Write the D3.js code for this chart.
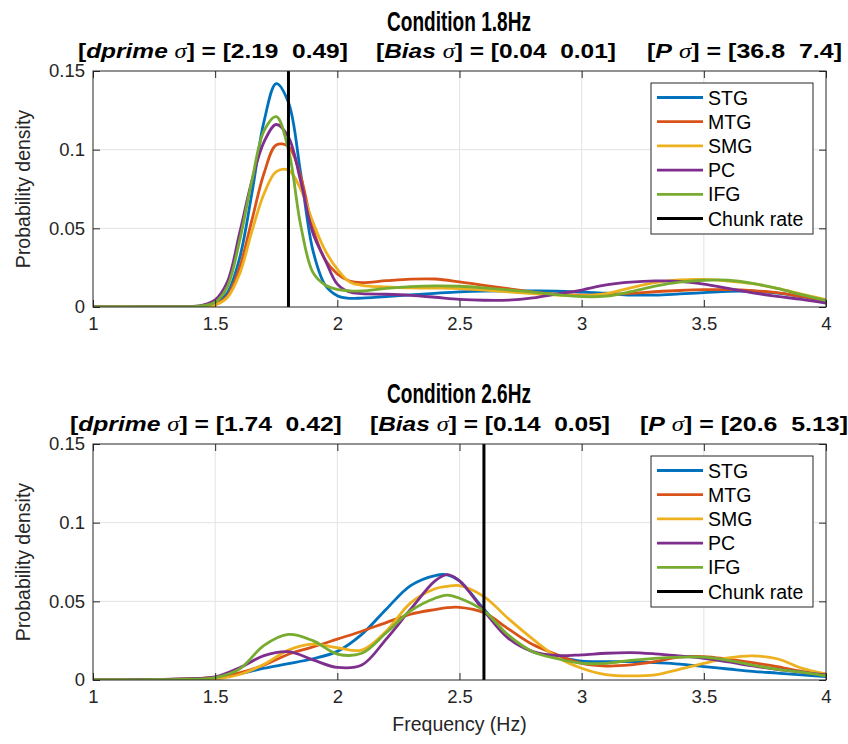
<!DOCTYPE html>
<html><head><meta charset="utf-8">
<script src="https://cdn.jsdelivr.net/npm/d3@7"></script>
<style>
html,body{margin:0;padding:0;background:#fff;}
svg{display:block;font-family:"Liberation Sans",Arial,sans-serif;}
</style></head>
<body><svg id="chart" width="848" height="744"></svg>
<script>
// ---------- data ----------
const regions = ["STG", "MTG", "SMG", "PC", "IFG"];
const colors = ["#0072BD", "#D95319", "#EDB120", "#7E2F8E", "#77AC30"];
const xTicks = [1, 1.5, 2, 2.5, 3, 3.5, 4];
const yTicks = [0, 0.05, 0.1, 0.15];
const yTickLabels = ["0", "0.05", "0.1", "0.15"];

const titles = ["Condition 1.8Hz", "Condition 2.6Hz"];
const chunkRates = [1.8, 2.6];
const dprimeStats = [["2.19", "0.49"], ["1.74", "0.42"]];
const biasStats = [["0.04", "0.01"], ["0.14", "0.05"]];
const pStats = [["36.8", "7.4"], ["20.6", "5.13"]];

// top panel (1.8 Hz)
const freqTop = [1.0, 1.2, 1.4, 1.45, 1.5, 1.55, 1.6, 1.65, 1.7, 1.75, 1.8, 1.85, 1.9, 1.95, 2.0, 2.05, 2.1,
  2.2, 2.3, 2.4, 2.5, 2.6, 2.7, 2.8, 2.9, 3.0, 3.1, 3.2, 3.3, 3.4, 3.5, 3.6, 3.7, 3.8, 3.9, 4.0];
const topSTG = [0, 0, 0.0001, 0.0004, 0.002, 0.009, 0.031, 0.072, 0.118, 0.142, 0.130, 0.085, 0.036, 0.014, 0.0072, 0.0055, 0.0057,
  0.0066, 0.0077, 0.0087, 0.0096, 0.0101, 0.0102, 0.0102, 0.0101, 0.0095, 0.0088, 0.0076, 0.0076, 0.0083, 0.0091, 0.0100, 0.0100, 0.0088, 0.0066, 0.0038];
const topMTG = [0, 0, 0.0001, 0.0003, 0.0015, 0.007, 0.025, 0.055, 0.085, 0.103, 0.102, 0.083, 0.050, 0.030, 0.021, 0.0165, 0.0155,
  0.0167, 0.0177, 0.0178, 0.016, 0.0138, 0.0116, 0.0095, 0.0081, 0.0075, 0.0079, 0.0087, 0.0097, 0.0105, 0.011, 0.011, 0.0104, 0.0091, 0.0067, 0.0042];
const topSMG = [0, 0, 0.0001, 0.0003, 0.0013, 0.006, 0.021, 0.048, 0.072, 0.086, 0.087, 0.075, 0.054, 0.036, 0.024, 0.016, 0.0138,
  0.0127, 0.0122, 0.012, 0.0117, 0.0107, 0.0096, 0.0085, 0.0076, 0.0072, 0.0085, 0.0122, 0.0155, 0.0172, 0.0175, 0.0165, 0.0148, 0.0118, 0.0082, 0.0047];
const topPC = [0, 0, 0.0003, 0.0012, 0.0045, 0.016, 0.047, 0.080, 0.105, 0.116, 0.108, 0.080, 0.047, 0.030, 0.0145, 0.0095, 0.0085,
  0.0081, 0.0074, 0.0062, 0.0049, 0.0043, 0.0044, 0.0058, 0.0083, 0.0108, 0.014, 0.0158, 0.0166, 0.0163, 0.0145, 0.0118, 0.009, 0.0068, 0.0048, 0.0025];
const topIFG = [0, 0, 0.0002, 0.0008, 0.003, 0.013, 0.042, 0.080, 0.112, 0.121, 0.100, 0.052, 0.022, 0.014, 0.0112, 0.0103, 0.0102,
  0.0118, 0.0129, 0.0134, 0.0132, 0.0122, 0.0108, 0.0095, 0.0078, 0.0066, 0.0069, 0.0097, 0.0132, 0.0158, 0.017, 0.017, 0.015, 0.0118, 0.0078, 0.0042];

// bottom panel (2.6 Hz)
const freqBottom = [1.0, 1.2, 1.4, 1.5, 1.6, 1.7, 1.8, 1.9, 2.0, 2.1, 2.2, 2.3, 2.4, 2.45, 2.5, 2.6, 2.7, 2.8, 2.9, 3.0,
  3.1, 3.2, 3.3, 3.4, 3.5, 3.6, 3.7, 3.8, 3.9, 4.0];
const botSTG = [0, 0.0001, 0.0007, 0.0013, 0.004, 0.0075, 0.0104, 0.0135, 0.0182, 0.029, 0.045, 0.060, 0.0664, 0.0668, 0.063, 0.045, 0.028, 0.018, 0.0145, 0.012,
  0.0117, 0.0117, 0.011, 0.0101, 0.0085, 0.007, 0.0055, 0.0044, 0.0033, 0.0021];
const botMTG = [0, 0.0002, 0.0008, 0.0018, 0.0045, 0.0095, 0.0164, 0.021, 0.026, 0.031, 0.0365, 0.0418, 0.0448, 0.046, 0.0462, 0.0428, 0.0325, 0.0225, 0.016, 0.0106,
  0.0089, 0.0096, 0.0117, 0.0145, 0.0149, 0.0132, 0.011, 0.0085, 0.0055, 0.0038];
const botSMG = [0, 0, 0.0002, 0.0006, 0.0035, 0.010, 0.019, 0.0228, 0.0205, 0.019, 0.031, 0.049, 0.058, 0.0595, 0.060, 0.053, 0.039, 0.026, 0.0145, 0.0075,
  0.0034, 0.0026, 0.0033, 0.0068, 0.0106, 0.014, 0.0153, 0.0135, 0.0075, 0.0038];
const botPC = [0, 0.0002, 0.0008, 0.002, 0.0078, 0.0155, 0.018, 0.0128, 0.008, 0.0095, 0.026, 0.045, 0.063, 0.067, 0.063, 0.044, 0.0265, 0.018, 0.0155, 0.016,
  0.017, 0.0174, 0.0166, 0.0153, 0.0138, 0.0115, 0.009, 0.0068, 0.005, 0.0032];
const botIFG = [0, 0.0001, 0.0005, 0.0015, 0.007, 0.022, 0.029, 0.025, 0.0165, 0.017, 0.030, 0.044, 0.052, 0.054, 0.052, 0.044, 0.0285, 0.018, 0.0135, 0.0106,
  0.0106, 0.0125, 0.0138, 0.0145, 0.0145, 0.0125, 0.0095, 0.0068, 0.005, 0.0026];

// ---------- drawing ----------
const svg = d3.select("#chart");
const textColor = "#262626";
const L = 93, R = 826;
const panels = [
  { freq: freqTop, series: [topSTG, topMTG, topSMG, topPC, topIFG], top: 71, bottom: 307, titleY: 31, subY: 58 },
  { freq: freqBottom, series: [botSTG, botMTG, botSMG, botPC, botIFG], top: 444, bottom: 680, titleY: 403, subY: 431 }
];

function fitText(sel, x0, w) {
  const bb = sel.node().getBBox();
  const s = w / bb.width;
  sel.attr("transform", `translate(${x0 - bb.x * s},0) scale(${s},1)`);
}

function statText(g, x0, w, yb, name, vals) {
  const t = g.append("text").attr("y", yb).attr("x", 0)
    .attr("font-size", 21).attr("font-weight", "bold").attr("fill", "#000")
    .style("white-space", "pre");
  t.append("tspan").text("[");
  t.append("tspan").attr("font-style", "italic").text(name);
  t.append("tspan").text(" ");
  t.append("tspan").attr("font-family", "'Liberation Serif','DejaVu Serif',serif").attr("font-style", "italic")
    .attr("font-weight", "normal").text("σ");
  t.append("tspan").text(`] = [${vals[0]}  ${vals[1]}]`);
  fitText(t, x0, w);
}

const subPos = [
  [[78, 270], [376, 240], [647, 195]],
  [[70, 272], [370, 240], [640, 208]]
];

panels.forEach((p, i) => {
  const x = d3.scaleLinear().domain([1, 4]).range([L, R]);
  const y = d3.scaleLinear().domain([0, 0.15]).range([p.bottom, p.top]);
  const g = svg.append("g");

  // grid
  g.append("g").selectAll("line").data(xTicks.slice(1, -1)).join("line")
    .attr("x1", d => x(d)).attr("x2", d => x(d)).attr("y1", p.top).attr("y2", p.bottom)
    .attr("stroke", "#e3e3e3").attr("stroke-width", 1);
  g.append("g").selectAll("line").data(yTicks.slice(1, -1)).join("line")
    .attr("y1", d => y(d)).attr("y2", d => y(d)).attr("x1", L).attr("x2", R)
    .attr("stroke", "#e3e3e3").attr("stroke-width", 1);

  // curves
  const clipId = "clip" + i;
  svg.append("clipPath").attr("id", clipId).append("rect")
    .attr("x", L).attr("y", p.top).attr("width", R - L).attr("height", p.bottom - p.top);
  const line = d3.line().x(d => x(d[0])).y(d => y(d[1])).curve(d3.curveCatmullRom.alpha(0.5));
  const cg = g.append("g").attr("clip-path", `url(#${clipId})`);
  p.series.forEach((vals, k) => {
    cg.append("path").datum(p.freq.map((f, j) => [f, vals[j]]))
      .attr("d", line).attr("fill", "none").attr("stroke", colors[k])
      .attr("stroke-width", 2.8).attr("stroke-linejoin", "round").attr("stroke-linecap", "round");
  });
  // chunk rate
  cg.append("line").attr("x1", x(chunkRates[i])).attr("x2", x(chunkRates[i]))
    .attr("y1", p.top).attr("y2", p.bottom).attr("stroke", "#000").attr("stroke-width", 3);

  // axes
  const ax = g.append("g").attr("transform", `translate(0,${p.bottom})`)
    .call(d3.axisBottom(x).tickValues(xTicks).tickSizeInner(-7).tickSizeOuter(0).tickPadding(10).tickFormat(d3.format("")));
  const axT = g.append("g").attr("transform", `translate(0,${p.top})`)
    .call(d3.axisTop(x).tickValues(xTicks).tickSizeInner(-7).tickSizeOuter(0).tickFormat(""));
  const ay = g.append("g").attr("transform", `translate(${L},0)`)
    .call(d3.axisLeft(y).tickValues(yTicks).tickSizeInner(-7).tickSizeOuter(0).tickPadding(8)
      .tickFormat((d, j) => yTickLabels[j]));
  const ayR = g.append("g").attr("transform", `translate(${R},0)`)
    .call(d3.axisRight(y).tickValues(yTicks).tickSizeInner(-7).tickSizeOuter(0).tickFormat(""));
  [ax, axT, ay, ayR].forEach(a => {
    a.select(".domain").remove();
    a.selectAll(".tick line").attr("stroke", textColor).attr("stroke-width", 1);
    a.selectAll(".tick text").attr("fill", textColor).attr("font-size", 18.5)
      .attr("font-family", "'Liberation Sans',Arial,sans-serif");
  });
  g.append("rect").attr("x", L).attr("y", p.top).attr("width", R - L).attr("height", p.bottom - p.top)
    .attr("fill", "none").attr("stroke", textColor).attr("stroke-width", 1);

  // y label
  g.append("text").attr("transform", `translate(23,${(p.top + p.bottom) / 2}) rotate(-90)`)
    .attr("text-anchor", "middle").attr("dy", "0.35em").attr("font-size", 19.5).attr("fill", textColor)
    .text("Probability density");

  // title
  const tt = g.append("text").attr("y", p.titleY).attr("x", 0).attr("font-size", 27)
    .attr("font-weight", "bold").attr("fill", "#000").text(titles[i]);
  fitText(tt, 387, 144);

  statText(g, subPos[i][0][0], subPos[i][0][1], p.subY, "dprime", dprimeStats[i]);
  statText(g, subPos[i][1][0], subPos[i][1][1], p.subY, "Bias", biasStats[i]);
  statText(g, subPos[i][2][0], subPos[i][2][1], p.subY, "P", pStats[i]);

  // legend
  const lx = 651, ly = p.top + 12, lw = 162, lh = 151;
  const lg = g.append("g");
  lg.append("rect").attr("x", lx).attr("y", ly).attr("width", lw).attr("height", lh)
    .attr("fill", "#fff").attr("stroke", textColor).attr("stroke-width", 1);
  const items = regions.map((r, k) => ({ name: r, color: colors[k] })).concat([{ name: "Chunk rate", color: "#000" }]);
  items.forEach((it, k) => {
    const cy = ly + 14.5 + k * 24.2;
    lg.append("line").attr("x1", lx + 6).attr("x2", lx + 52).attr("y1", cy).attr("y2", cy)
      .attr("stroke", it.color).attr("stroke-width", 2.8);
    lg.append("text").attr("x", lx + 57).attr("y", cy).attr("dy", "0.36em").attr("font-size", 19.5)
      .attr("fill", "#000").text(it.name);
  });
});

// x label
svg.append("text").attr("x", (L + R) / 2).attr("y", 724).attr("dy", "0.35em").attr("text-anchor", "middle")
  .attr("font-size", 19.5).attr("fill", textColor).text("Frequency (Hz)");
</script>
</body></html>
